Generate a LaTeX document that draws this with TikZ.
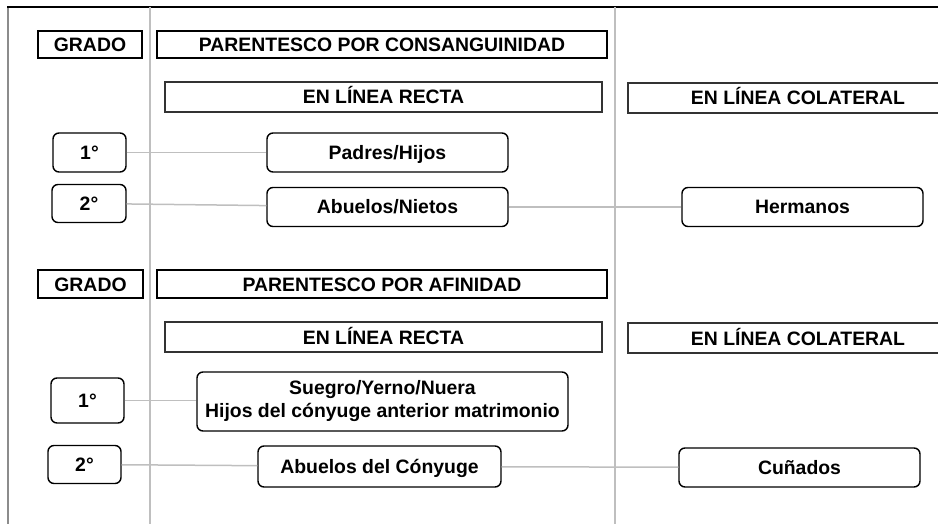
\documentclass[tikz,border=0pt]{standalone}
\usepackage{fontspec}
\setmainfont{Liberation Sans}
\usetikzlibrary{positioning}
\tikzset{head box/.style={rectangle,draw=black,line width=1.6pt,fill=white,inner sep=0pt,text height=14pt,text depth=0pt,font=\bfseries\fontsize{19.4}{23}\selectfont},
         sub box/.style={head box,draw=black!80,line width=1.2pt},
         item base/.style={rectangle,rounded corners=6pt,draw=black,line width=1.4pt,fill=white,inner sep=0pt,align=center,font=\bfseries\fontsize{19.4}{23}\selectfont},
         item box/.style={item base,text height=14pt,text depth=0pt},
         link/.style={draw=black!25,line width=1.5pt}
}
\begin{document}
\begin{tikzpicture}[x=1pt,y=-1pt]
\useasboundingbox (0,0) rectangle (938,524);
\clip (0,0) rectangle (938,524);
% frame and columns
\draw[black!45,line width=1.5pt] (8,524) -- (8,7);
\draw[black,line width=1.5pt] (7,7) -- (950,7);
\draw[black!25,line width=2pt] (150,7) -- (150,524);
\draw[black!25,line width=2pt] (615,7) -- (615,524);

% consanguinidad
\node[head box,minimum width=104,minimum height=27] (grado1) at (90,44.5) {GRADO};
\node[head box,minimum width=450,minimum height=27] (consang) at (382,44.5) {PARENTESCO POR CONSANGUINIDAD};
\node[sub box,minimum width=437,minimum height=30] (recta1) at (383.5,97) {EN LÍNEA RECTA};
\node[sub box,minimum width=340,minimum height=30] (colat1) at (798,98) {EN LÍNEA COLATERAL};
\node[item box,minimum width=73,minimum height=39] (one1) at (89.5,152.5) {1°};
\node[item box,minimum width=241,minimum height=39] (padres) at (387.5,152.5) {Padres/Hijos};
\node[item box,minimum width=74,minimum height=38] (two1) at (89,203.5) {2°};
\node[item box,minimum width=241,minimum height=39] (abuelos) at (387.5,207) {Abuelos/Nietos};
\node[item box,minimum width=241,minimum height=39] (hermanos) at (802.5,207) {Hermanos};

% afinidad
\node[head box,minimum width=105,minimum height=28] (grado2) at (90.5,284) {GRADO};
\node[head box,minimum width=450,minimum height=28] (afinidad) at (382,284) {PARENTESCO POR AFINIDAD};
\node[sub box,minimum width=437,minimum height=30] (recta2) at (383.5,337) {EN LÍNEA RECTA};
\node[sub box,minimum width=340,minimum height=30] (colat2) at (798,338) {EN LÍNEA COLATERAL};
\node[item box,minimum width=73,minimum height=45] (one2) at (87.5,400.5) {1°};
\node[item base,minimum width=371,minimum height=59] (suegro) at (382.5,401.5) {Suegro/Yerno/Nuera\\Hijos del cónyuge anterior matrimonio};
\node[item box,minimum width=73,minimum height=38] (two2) at (84.5,464.5) {2°};
\node[item box,minimum width=243,minimum height=41] (abuelosc) at (379.5,466.5) {Abuelos del Cónyuge};
\node[item box,minimum width=241,minimum height=39] (cunados) at (799.5,467.5) {Cuñados};

% links
\draw[link] (one1) -- (padres);
\draw[link] (two1) -- (abuelos);
\draw[link] (abuelos) -- (hermanos);
\draw[link] (one2) -- (one2 -| suegro.west);
\draw[link] (two2) -- (abuelosc);
\draw[link] (abuelosc) -- (cunados);
\end{tikzpicture}
\end{document}
